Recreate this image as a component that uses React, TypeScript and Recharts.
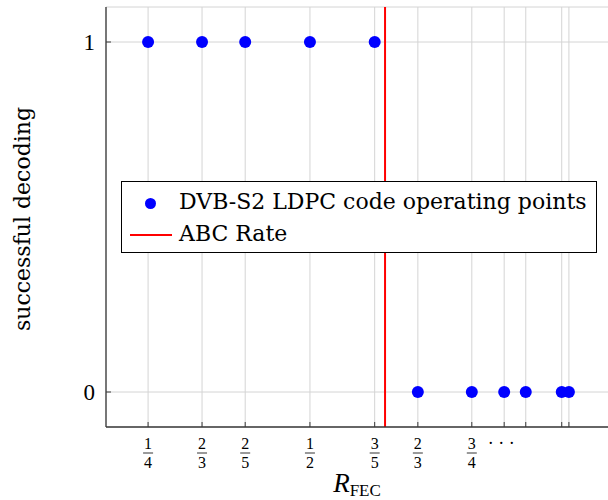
import {
  ComposedChart, Scatter, XAxis, YAxis, CartesianGrid, ReferenceLine, Legend,
} from "recharts";

// DVB-S2 LDPC code rates and whether decoding succeeded
const codeRates = [1 / 4, 1 / 3, 2 / 5, 1 / 2, 3 / 5, 2 / 3, 3 / 4, 4 / 5, 5 / 6, 8 / 9, 9 / 10];
const decodingSuccess = [1, 1, 1, 1, 1, 0, 0, 0, 0, 0, 0];
const numerators = ["1", "2", "2", "1", "3", "2", "3", "", "", "", ""];
const denominators = ["4", "3", "5", "2", "5", "3", "4", "", "", "", ""];
const dotsAt = 4 / 5;
const abcRate = 0.616;
const yTicks = [0, 1];

const points = codeRates.map((r, i) => ({ rate: r, ok: decodingSuccess[i] }));

const FONT = "'Liberation Serif', 'DejaVu Serif', serif";
const WIDE = "'DejaVu Serif', serif";
const FRAME = "#3a3a3a";

function BottomTick(props: any) {
  const { x, y, payload } = props;
  const i = codeRates.findIndex((r) => Math.abs(r - payload.value) < 1e-9);
  return (
    <g>
      <line x1={x} y1={y - 5} x2={x} y2={y} stroke={FRAME} strokeWidth={1} />
      {numerators[i] ? (
        <g fontFamily={FONT} fontSize={16} fill="#000" textAnchor="middle">
          <text x={x} y={y + 16} dominantBaseline="central">{numerators[i]}</text>
          <line x1={x - 5} y1={y + 26} x2={x + 5} y2={y + 26} stroke="#000" strokeWidth={0.8} />
          <text x={x} y={y + 35} dominantBaseline="central">{denominators[i]}</text>
        </g>
      ) : null}
      {Math.abs(payload.value - dotsAt) < 1e-9 ? (
        <text x={x - 3} y={y + 16} textAnchor="middle" dominantBaseline="central"
          fontFamily={FONT} fontSize={18}>· · ·</text>
      ) : null}
    </g>
  );
}

function TopTick(props: any) {
  const { x, y } = props;
  return <line x1={x} y1={y} x2={x} y2={y + 5} stroke={FRAME} strokeWidth={1} />;
}

function LeftTick(props: any) {
  const { x, y, payload } = props;
  return (
    <g>
      <line x1={x} y1={y} x2={x + 5} y2={y} stroke={FRAME} strokeWidth={1} />
      <text x={x - 11} y={y} textAnchor="end" dominantBaseline="central"
        fontFamily={FONT} fontSize={23} fill="#000">{payload.value}</text>
    </g>
  );
}

function Dot(props: any) {
  return <circle cx={props.cx} cy={props.cy} r={6} fill="#0000ff" />;
}

function LegendBox() {
  return (
    <div style={{
      width: 476, height: 72, border: "1.5px solid #000", background: "#fff",
      fontFamily: WIDE, fontSize: 22, color: "#000", boxSizing: "border-box",
      position: "relative", whiteSpace: "nowrap",
    }}>
      <div style={{ position: "absolute", left: 0, top: 3, height: 32, display: "flex", alignItems: "center" }}>
        <span style={{ display: "inline-block", width: 57, textAlign: "center" }}>
          <span style={{ display: "inline-block", width: 11, height: 11, borderRadius: 6, background: "#0000ff" }} />
        </span>
        <span>DVB-S2 LDPC code operating points</span>
      </div>
      <div style={{ position: "absolute", left: 0, top: 35, height: 32, display: "flex", alignItems: "center" }}>
        <span style={{ display: "inline-block", width: 57, textAlign: "center" }}>
          <span style={{ display: "inline-block", width: 42, height: 2, background: "#ff0000", verticalAlign: "middle" }} />
        </span>
        <span>ABC Rate</span>
      </div>
    </div>
  );
}

export default function App() {
  return (
    <div style={{ position: "absolute", left: 0, top: 0, width: 608, height: 500, overflow: "hidden", background: "#fff" }}>
      <ComposedChart width={620} height={500} data={points}
        margin={{ top: 7, right: 9, bottom: 0, left: 0 }}>
        <CartesianGrid stroke="#d4d4d4" strokeWidth={1} />
        <XAxis dataKey="rate" type="number" domain={[0.185, 0.965]} ticks={codeRates}
          allowDataOverflow height={73} tickSize={0} tickMargin={0} tick={<BottomTick />}
          tickLine={false} axisLine={{ stroke: FRAME, strokeWidth: 1.3 }} interval={0}
          label={{
            content: () => (
              <text x={357} y={492} textAnchor="middle" fontFamily={FONT} fill="#000">
                <tspan fontSize={27} fontStyle="italic">R</tspan>
                <tspan fontSize={17} dy={4}>FEC</tspan>
              </text>
            ),
          }} />
        <XAxis xAxisId="top" orientation="top" dataKey="rate" type="number" domain={[0.185, 0.965]}
          ticks={codeRates} allowDataOverflow height={0} tickSize={0} tickMargin={0}
          tick={<TopTick />} tickLine={false} axisLine={{ stroke: FRAME, strokeWidth: 1.3 }} interval={0} />
        <YAxis type="number" domain={[-0.1, 1.1]} ticks={yTicks} width={106} allowDataOverflow
          tickSize={0} tickMargin={0} tick={<LeftTick />} tickLine={false}
          axisLine={{ stroke: FRAME, strokeWidth: 1.3 }}
          label={{
            content: () => (
              <text x={22} y={219} transform="rotate(-90 22 219)" textAnchor="middle"
                dominantBaseline="central" fontFamily={WIDE} fontSize={22} fill="#000">
                successful decoding
              </text>
            ),
          }} />
        <ReferenceLine x={abcRate} stroke="#ff0000" strokeWidth={2} ifOverflow="extendDomain" />
        <Scatter dataKey="ok" name="DVB-S2 LDPC code operating points" shape={<Dot />}
          isAnimationActive={false} />
        <Legend content={<LegendBox />} layout="horizontal" verticalAlign="middle" align="center"
          wrapperStyle={{ position: "absolute", left: 121, top: 181, width: 476 }} />
      </ComposedChart>
    </div>
  );
}
